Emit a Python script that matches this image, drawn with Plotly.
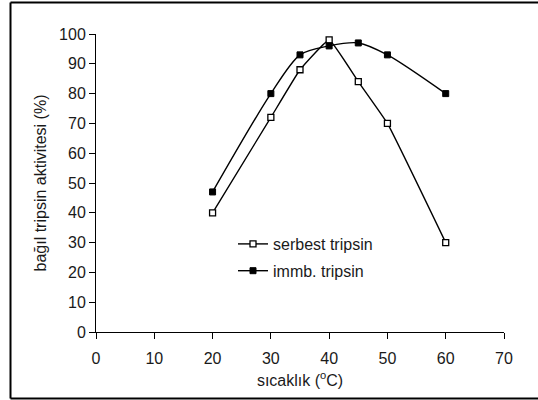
import plotly.graph_objects as go

temps = [20, 30, 35, 40, 45, 50, 60]
serbest = [40, 72, 88, 98, 84, 70, 30]
immb = [47, 80, 93, 96, 97, 93, 80]

L, R, T, B = 96, 34, 34, 68
W, H = 538, 400
pw, ph = W - L - R, H - T - B

def px(xp):
    return (xp - L) / pw

def py(yp):
    return (H - B - yp) / ph

fig = go.Figure()
fig.add_trace(go.Scatter(
    x=temps, y=serbest, name="serbest tripsin", mode="lines+markers", legendgroup="a",
    line=dict(color="black", width=1.4, shape="spline", smoothing=0.3),
    marker=dict(symbol="square", size=6, color="white", line=dict(color="black", width=1.3)),
))
fig.add_trace(go.Scatter(
    x=temps, y=immb, name="immb. tripsin", mode="lines+markers", legendgroup="b",
    line=dict(color="black", width=1.4, shape="spline", smoothing=0.8),
    marker=dict(symbol="square", size=6, color="black", line=dict(color="black", width=1)),
))

txt = "#1a1a1a"
font = dict(family="Liberation Sans, Arial, sans-serif", size=16, color=txt)
fig.update_layout(
    width=W, height=H,
    margin=dict(l=L, r=R, t=T, b=B),
    paper_bgcolor="white", plot_bgcolor="white",
    font=font,
    showlegend=True,
    legend=dict(x=px(233), y=py(227), xanchor="left", yanchor="top",
                bgcolor="rgba(0,0,0,0)", font=dict(size=16, color=txt),
                traceorder="grouped", tracegroupgap=3, itemwidth=30),
    xaxis=dict(range=[0, 70], dtick=10, tick0=0, showgrid=False, zeroline=False,
               showline=True, linecolor="black", linewidth=1,
               ticks="outside", ticklen=6, tickcolor="black", ticklabelstandoff=6,
               title=dict(text="sıcaklık (<sup>o</sup>C)", standoff=8, font=dict(size=16))),
    yaxis=dict(range=[0, 100], dtick=10, tick0=0, showgrid=False, zeroline=False,
               showline=True, linecolor="black", linewidth=1,
               ticks="outside", ticklen=6, tickcolor="black",
               title=dict(text="bağıl tripsin aktivitesi (%)", standoff=8, font=dict(size=16))),
    shapes=[
        dict(type="line", xref="paper", yref="paper", x0=px(10.5), x1=px(10.5), y0=py(2.5), y1=py(398.5),
             line=dict(color="black", width=2)),
        dict(type="line", xref="paper", yref="paper", x0=px(10.5), x1=px(545), y0=py(2.5), y1=py(2.5),
             line=dict(color="black", width=2)),
        dict(type="line", xref="paper", yref="paper", x0=px(10.5), x1=px(545), y0=py(398.5), y1=py(398.5),
             line=dict(color="black", width=2)),
    ],
)
fig.write_html("out.html")
